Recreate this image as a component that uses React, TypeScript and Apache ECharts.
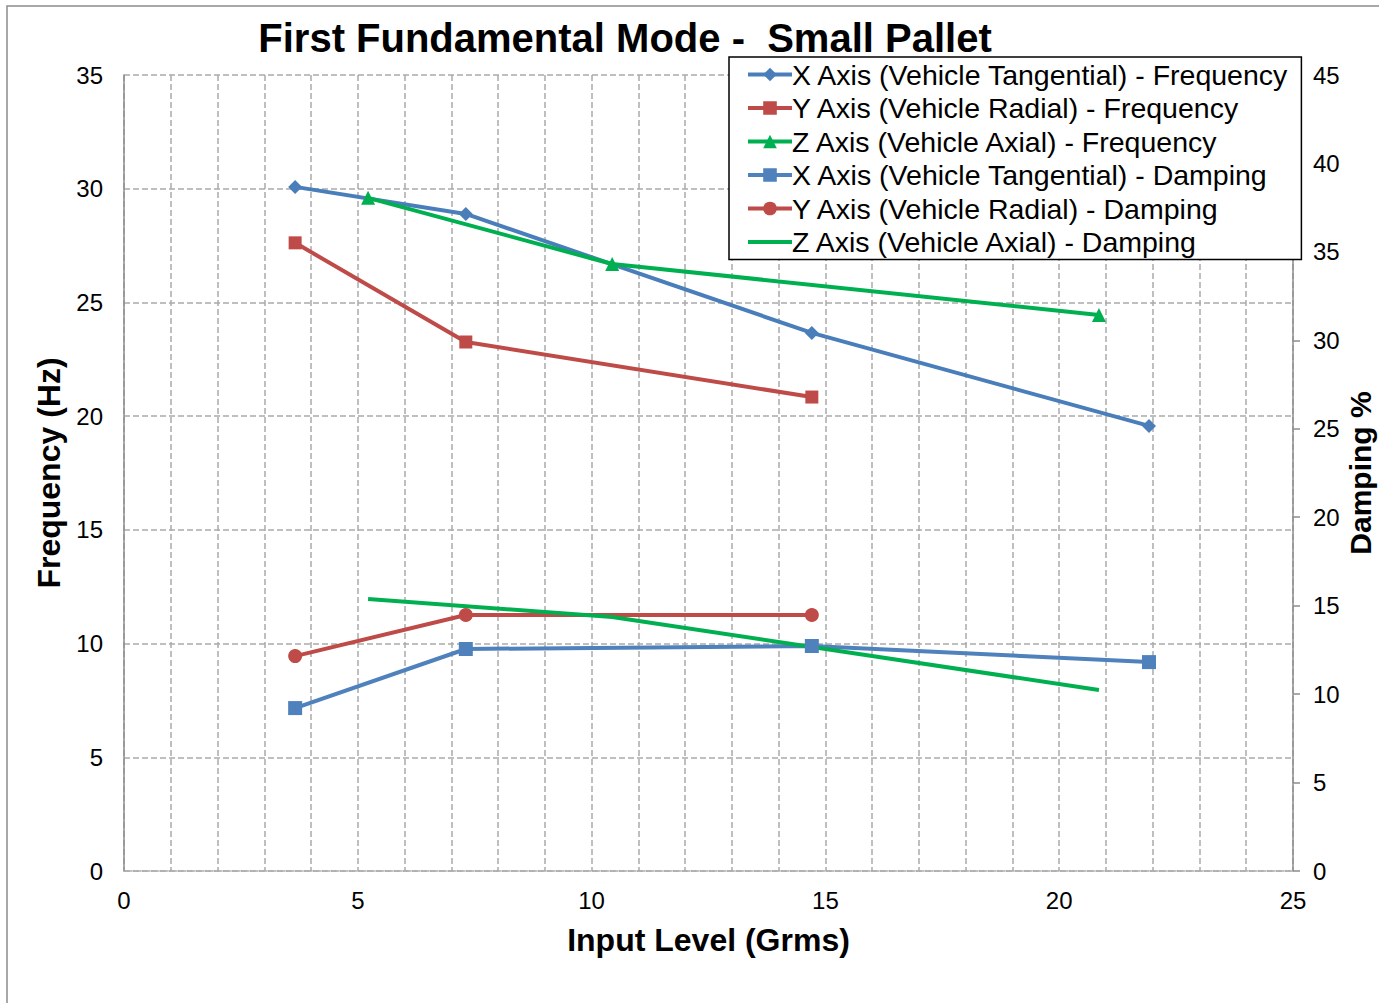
import React, { useEffect, useRef } from "react";
import * as echarts from "echarts";

const xFreqX = [3.66, 7.31, 14.71, 21.92];
const xFreqY = [30.08, 28.89, 23.66, 19.57];
const yFreqX = [3.66, 7.31, 14.71];
const yFreqY = [27.62, 23.26, 20.84];
const zFreqX = [5.22, 10.44, 20.85];
const zFreqY = [29.6, 26.69, 24.45];
const xDampX = [3.66, 7.31, 14.71, 21.92];
const xDampY = [9.21, 12.55, 12.72, 11.81];
const yDampX = [3.66, 7.31, 14.71];
const yDampY = [12.15, 14.47, 14.47];
const zDampX = [5.22, 10.44, 20.85];
const zDampY = [15.38, 14.36, 10.23];

const seriesNames = [
  "X Axis (Vehicle Tangential) - Frequency",
  "Y Axis (Vehicle Radial) - Frequency",
  "Z Axis (Vehicle Axial) - Frequency",
  "X Axis (Vehicle Tangential) - Damping",
  "Y Axis (Vehicle Radial) - Damping",
  "Z Axis (Vehicle Axial) - Damping",
];

const BLUE = "#4A7EBB";
const BLUE2 = "#4F81BD";
const RED = "#BE4B48";
const GREEN = "#00B050";

const zip = (xs: number[], ys: number[]) => xs.map((x, i) => [x, ys[i]]);

export default function App() {
  const ref = useRef<HTMLDivElement>(null);
  useEffect(() => {
    if (!ref.current) return;
    const chart = echarts.init(ref.current, undefined, { renderer: "svg" });
    const font = "Liberation Sans, Arial, sans-serif";
    const gridColor = "#ababab";
    const mk = (
      name: string,
      data: number[][],
      color: string,
      symbol: string,
      size: number,
      yAxisIndex: number,
      show: boolean
    ) => ({
      name,
      type: "line",
      yAxisIndex,
      data,
      symbol,
      symbolSize: size,
      showSymbol: show,
      lineStyle: { color, width: 4 },
      itemStyle: { color },
      z: 3,
    });
    chart.setOption({
      animation: false,
      backgroundColor: "#fff",
      textStyle: { fontFamily: font },
      title: {
        text: "First Fundamental Mode -  Small Pallet",
        left: 620,
        textAlign: "center",
        top: 13,
        textStyle: { fontSize: 40, fontWeight: "bold", color: "#000", fontFamily: font },
      },
      graphic: [
        {
          type: "rect",
          shape: { x: 7, y: 6, width: 1500, height: 1200 },
          style: { fill: "none", stroke: "#8c8c8c", lineWidth: 1.5 },
          silent: true,
          z: -1,
        },
      ],
      legend: {
        orient: "vertical",
        left: 729,
        top: 57,
        backgroundColor: "#fff",
        borderColor: "#000",
        borderWidth: 1.5,
        borderRadius: 0,
        padding: [3, 12, 3, 17],
        itemGap: 4.5,
        itemWidth: 44,
        itemHeight: 17,
        lineStyle: { width: 4 },
        textStyle: { fontSize: 28.5, color: "#000", fontFamily: font, padding: [0, 0, 0, -5] },
        data: [
          seriesNames[0],
          seriesNames[1],
          seriesNames[2],
          seriesNames[3],
          seriesNames[4],
          { name: seriesNames[5], itemStyle: { opacity: 0 } },
        ],
        z: 10,
      },
      grid: { left: 124, right: 86, top: 75, bottom: 132, containLabel: false, outerBoundsMode: "none" },
      xAxis: {
        type: "value",
        min: 0,
        max: 25,
        interval: 5,
        name: "Input Level (Grms)",
        nameLocation: "middle",
        nameGap: 53,
        nameTextStyle: { fontSize: 32, fontWeight: "bold", color: "#000", fontFamily: font },
        axisLine: { show: true, onZero: false, lineStyle: { color: gridColor, type: "dotted", width: 1.5 } },
        axisTick: { show: false },
        axisLabel: { fontSize: 24, color: "#000", margin: 17, fontFamily: font },
        splitLine: { show: true, lineStyle: { color: gridColor, type: "dashed", width: 1.5 } },
        minorTick: { show: false, splitNumber: 5 },
        minorSplitLine: { show: true, lineStyle: { color: gridColor, type: "dashed", width: 1.5 } },
      },
      yAxis: [
        {
          type: "value",
          min: 0,
          max: 35,
          interval: 5,
          position: "left",
          name: "Frequency (Hz)",
          nameLocation: "middle",
          nameGap: 55,
          nameRotate: 90,
          nameTextStyle: { fontSize: 32, fontWeight: "bold", color: "#000", fontFamily: font },
          axisLine: { show: true, lineStyle: { color: "#8c8c8c", width: 1.5 } },
          axisTick: { show: false },
          axisLabel: { fontSize: 24, color: "#000", margin: 21, fontFamily: font },
          splitLine: { show: true, lineStyle: { color: gridColor, type: "dashed", width: 1.5 } },
        },
        {
          type: "value",
          min: 0,
          max: 45,
          interval: 5,
          position: "right",
          name: "Damping %",
          nameLocation: "middle",
          nameGap: 52,
          nameMoveOverlap: false,
          nameRotate: 90,
          nameTextStyle: { fontSize: 30, fontWeight: "bold", color: "#000", fontFamily: font },
          axisLine: { show: true, lineStyle: { color: "#8c8c8c", width: 1.5 } },
          axisTick: { show: true, inside: false, length: 7, lineStyle: { color: "#8c8c8c", width: 1.5 } },
          axisLabel: { fontSize: 24, color: "#000", margin: 20, fontFamily: font },
          splitLine: { show: false },
        },
      ],
      series: [
        mk(seriesNames[0], zip(xFreqX, xFreqY), BLUE, "diamond", 14, 0, true),
        mk(seriesNames[1], zip(yFreqX, yFreqY), RED, "rect", 13, 0, true),
        mk(seriesNames[2], zip(zFreqX, zFreqY), GREEN, "triangle", 14, 0, true),
        mk(seriesNames[3], zip(xDampX, xDampY), BLUE2, "rect", 14, 1, true),
        mk(seriesNames[4], zip(yDampX, yDampY), RED, "circle", 14, 1, true),
        mk(seriesNames[5], zip(zDampX, zDampY), GREEN, "circle", 0, 1, false),
      ],
    });
    return () => chart.dispose();
  }, []);
  return (
    <div
      ref={ref}
      style={{ position: "fixed", left: 0, top: 0, width: 1379, height: 1003 }}
    />
  );
}
